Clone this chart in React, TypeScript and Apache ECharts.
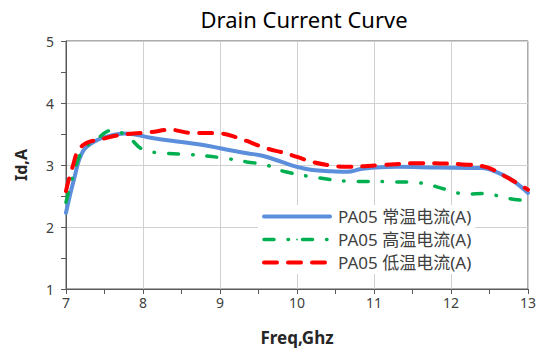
import React, { useEffect, useRef } from "react";
import * as echarts from "echarts";

const titleText = "Drain Current Curve";
const xName = "Freq,Ghz";
const yName = "Id,A";
const seriesNames = ["PA05 常温电流(A)", "PA05 高温电流(A)", "PA05 低温电流(A)"];

const normalFreq = [7.0, 7.1, 7.22, 7.4, 7.6, 7.75, 7.9, 8.1, 8.5, 8.8, 9.0, 9.35, 9.55, 9.8, 10.0, 10.2, 10.45, 10.65, 10.85, 11.3, 11.8, 12.4, 12.6, 12.8, 13.0];
const normalId = [2.23, 2.75, 3.22, 3.4, 3.48, 3.51, 3.49, 3.44, 3.37, 3.32, 3.27, 3.19, 3.15, 3.05, 2.97, 2.92, 2.9, 2.89, 2.94, 2.97, 2.96, 2.95, 2.88, 2.75, 2.55];

const highFreq = [7.0, 7.12, 7.22, 7.4, 7.6, 7.8, 8.0, 8.3, 8.6, 9.0, 9.35, 9.6, 9.85, 10.3, 10.65, 11.2, 11.6, 11.95, 12.2, 12.45, 12.7, 13.0];
const highId = [2.4, 2.95, 3.24, 3.42, 3.56, 3.46, 3.25, 3.19, 3.17, 3.12, 3.05, 3.0, 2.89, 2.79, 2.74, 2.73, 2.71, 2.6, 2.53, 2.54, 2.47, 2.42];

const lowFreq = [7.0, 7.08, 7.2, 7.5, 7.8, 8.1, 8.35, 8.6, 9.0, 9.25, 9.6, 9.85, 10.0, 10.2, 10.45, 10.65, 11.1, 11.6, 12.15, 12.45, 12.7, 13.0];
const lowId = [2.58, 2.95, 3.3, 3.43, 3.5, 3.53, 3.57, 3.52, 3.51, 3.43, 3.27, 3.19, 3.13, 3.05, 2.99, 2.97, 3.0, 3.03, 3.01, 2.97, 2.82, 2.6];

const FONT = "'Noto Sans', 'Noto Sans CJK SC', sans-serif";

const zip = (xs: number[], ys: number[]) => xs.map((x, i) => [x, ys[i]]);

export default function App() {
  const ref = useRef<HTMLDivElement>(null);
  useEffect(() => {
    if (!ref.current) return;
    const chart = echarts.init(ref.current, undefined, { renderer: "svg" });
    chart.setOption({
      animation: false,
      backgroundColor: "#fff",
      title: {
        text: titleText,
        left: 299,
        textAlign: "center",
        top: 3,
        textStyle: { fontFamily: FONT, fontSize: 22, fontWeight: "normal", color: "#000" },
      },
      grid: {
        left: 66,
        right: 19,
        top: 41,
        bottom: 66,
        show: true,
        borderColor: "#595959",
        borderWidth: 1,
      },
      legend: {
        orient: "vertical",
        left: 258,
        top: 205,
        padding: [3, 4, 3, 4],
        backgroundColor: "#fff",
        itemWidth: 66,
        itemHeight: 2,
        itemGap: 6,
        lineStyle: { width: "inherit" },
        textStyle: { fontFamily: FONT, fontSize: 17, lineHeight: 17, color: "#404040", padding: [0, 0, 0, 3] },
        data: seriesNames,
      },
      xAxis: {
        type: "value",
        min: 7,
        max: 13,
        interval: 1,
        name: xName,
        nameLocation: "middle",
        nameGap: 40,
        nameTextStyle: { fontFamily: FONT, fontSize: 17, fontWeight: "bold", color: "#262626" },
        axisLine: { show: true, lineStyle: { color: "#595959", width: 1 } },
        axisTick: { show: true, length: 5, lineStyle: { color: "#595959" } },
        minorTick: { show: true, splitNumber: 2, length: 5, lineStyle: { color: "#595959" } },
        axisLabel: { fontFamily: FONT, fontSize: 14, color: "#404040", margin: 6 },
        splitLine: { show: true, lineStyle: { color: "#d0d0d0", width: 1 } },
      },
      yAxis: {
        type: "value",
        min: 1,
        max: 5,
        interval: 1,
        name: yName,
        nameLocation: "middle",
        nameGap: 37,
        nameRotate: 90,
        nameTextStyle: { fontFamily: FONT, fontSize: 16, fontWeight: "bold", color: "#262626" },
        axisLine: { show: true, lineStyle: { color: "#595959", width: 1 } },
        axisTick: { show: true, length: 5, lineStyle: { color: "#595959" } },
        minorTick: { show: true, splitNumber: 2, length: 5, lineStyle: { color: "#595959" } },
        axisLabel: { fontFamily: FONT, fontSize: 14, color: "#404040", margin: 12 },
        splitLine: { show: true, lineStyle: { color: "#d0d0d0", width: 1 } },
      },
      series: [
        {
          name: seriesNames[0],
          type: "line",
          data: zip(normalFreq, normalId),
          smooth: 0.4,
          symbol: "none",
          z: 3,
          itemStyle: { color: "#5B8FDB" },
          lineStyle: { color: "#5B8FDB", width: 4, cap: "round" },
        },
        {
          name: seriesNames[1],
          type: "line",
          data: zip(highFreq, highId),
          smooth: 0.4,
          symbol: "none",
          z: 4,
          itemStyle: { color: "#00B050" },
          lineStyle: { color: "#00B050", width: 3.5, type: [10, 14, 0.5, 14], cap: "round" },
        },
        {
          name: seriesNames[2],
          type: "line",
          data: zip(lowFreq, lowId),
          smooth: 0.4,
          symbol: "none",
          z: 5,
          itemStyle: { color: "#FF0000" },
          lineStyle: { color: "#FF0000", width: 4, type: [13, 11], cap: "round" },
        },
      ],
    });
    return () => chart.dispose();
  }, []);
  return <div ref={ref} style={{ width: 547, height: 355, position: "absolute", left: 0, top: 0 }} />;
}
